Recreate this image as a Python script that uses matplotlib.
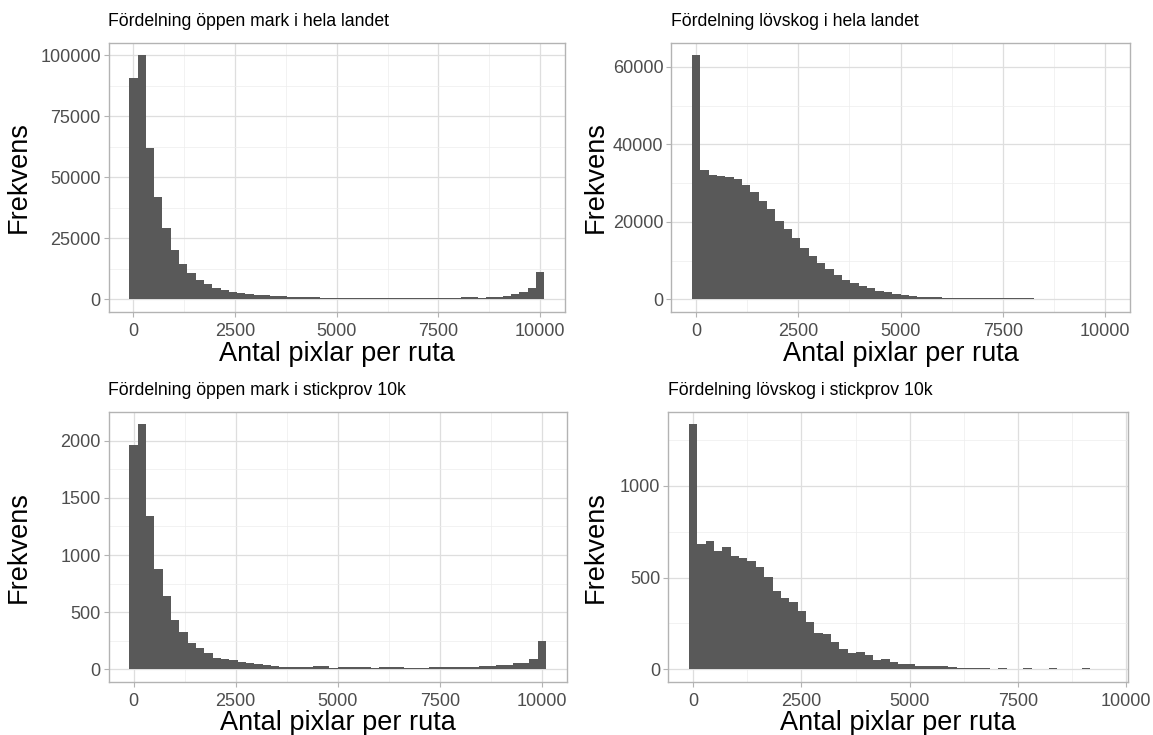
import numpy as np
import matplotlib.pyplot as plt
from matplotlib.ticker import MultipleLocator

plt.rcParams['font.family'] = ['Liberation Sans', 'DejaVu Sans']

# Histogram counts (50 bins each, ggplot-style centred on 0)
open_all = [90500, 100000, 62000, 42000, 29400, 20400, 14600, 10800, 8050, 6150,
            4650, 3700, 3000, 2600, 2200, 1900, 1640, 1500, 1230, 1100,
            950, 850, 780, 720, 670, 620, 580, 560, 540, 530,
            520, 520, 530, 540, 560, 580, 600, 630, 660, 700,
            750, 800, 680, 820, 1100, 1500, 2050, 3000, 4800, 11200]
lov_all = [63000, 33500, 32000, 31900, 31600, 31000, 29500, 27600, 25400, 23200,
           20300, 18200, 15800, 13300, 11300, 9450, 7700, 6350, 5100, 4150,
           3450, 2850, 2200, 1800, 1400, 1080, 890, 710, 610, 520,
           440, 380, 340, 310, 290, 270, 250, 240, 230, 220,
           210, 0, 0, 0, 0, 0, 0, 0, 0, 0]
open_10k = [1960, 2145, 1338, 880, 638, 430, 322, 234, 190, 145,
            97, 90, 85, 67, 58, 50, 36, 32, 24, 23,
            18, 17, 32, 26, 15, 23, 20, 17, 17, 15,
            20, 23, 17, 15, 15, 15, 17, 20, 23, 20,
            17, 23, 26, 26, 35, 41, 52, 55, 93, 250]
lov_10k = [1336, 685, 700, 645, 664, 618, 609, 590, 555, 505,
           427, 388, 368, 316, 255, 198, 190, 150, 109, 86,
           96, 77, 49, 56, 40, 31, 27, 18, 15, 15,
           17, 11, 9, 9, 8, 6, 4, 6, 2, 2,
           6, 1, 1, 5, 0, 1, 2, 5, 0, 1]

max_all = [10000, 10000, 10000, 9460]
titles = ['Fördelning öppen mark i hela landet', 'Fördelning lövskog i hela landet',
          'Fördelning öppen mark i stickprov 10k', 'Fördelning lövskog i stickprov 10k']
series = [open_all, lov_all, open_10k, lov_10k]
y_major = [25000, 20000, 500, 500]

W, H = 1153, 735
fig = plt.figure(figsize=(W / 100, H / 100), dpi=100)

# panel boxes in pixels: left, top, right, bottom ; right edge of ylabel in pixels
boxes = [(108.5, 43, 565, 311.5), (671, 43, 1130, 311.5),
         (108.5, 412, 567, 681.5), (668, 412, 1128, 681.5)]
ylab_x = [32, 609, 32, 609]
xlab_pad = [1, 1, 0, 0]

for box, counts, title, xmax, ymaj, yx, xp in zip(boxes, series, titles, max_all,
                                                   y_major, ylab_x, xlab_pad):
    l, t, r, b = box
    ax = fig.add_axes([l / W, 1 - b / H, (r - l) / W, (b - t) / H])
    counts = np.array(counts)
    bw = xmax / (len(counts) - 1)
    edges = (np.arange(len(counts) + 1) - 0.5) * bw
    ax.stairs(counts, edges, fill=True, color='#595959', linewidth=0, zorder=3)

    lo, hi = edges[0], edges[-1]
    pad = 0.05 * (hi - lo)
    ax.set_xlim(lo - pad, hi + pad)
    ymax = counts.max()
    ax.set_ylim(-0.05 * ymax, 1.05 * ymax)

    ax.xaxis.set_major_locator(MultipleLocator(2500))
    ax.xaxis.set_minor_locator(MultipleLocator(1250))
    ax.yaxis.set_major_locator(MultipleLocator(ymaj))
    ax.yaxis.set_minor_locator(MultipleLocator(ymaj / 2))
    ax.grid(which='major', color='#DEDEDE', linewidth=0.9, zorder=0)
    ax.grid(which='minor', color='#EDEDED', linewidth=0.5, zorder=0)
    ax.set_axisbelow(True)
    for s in ax.spines.values():
        s.set_color('#B3B3B3')
        s.set_linewidth(1.0)
    ax.tick_params(which='major', length=3.5, width=0.8, color='#B3B3B3',
                   labelsize=13, labelcolor='#4D4D4D', pad=2)
    ax.tick_params(axis='x', which='major', pad=4.5)
    ax.tick_params(which='minor', length=0)

    ax.set_xlabel('Antal pixlar per ruta', fontsize=19.5, labelpad=xp)
    ax.set_ylabel('Frekvens', fontsize=19.5)
    ax.yaxis.set_label_coords((yx - l) / (r - l), 0.5)
    ax.set_title(title, loc='left', fontsize=12.7, pad=12)

fig.savefig('out.png', dpi=100, facecolor='white')
